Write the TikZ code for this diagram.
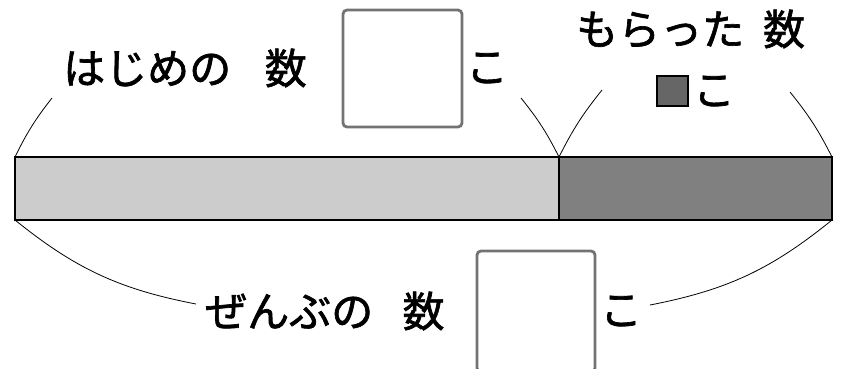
\documentclass[tikz,border=0pt]{standalone}
\usepackage{fontspec}
\setmainfont{Noto Sans CJK JP}
\newfontfamily\jpfont{Noto Sans CJK JP}[FakeBold=1.6]
\usepackage{tikz}

\begin{document}
\begin{tikzpicture}[x=1pt,y=-1pt,
  lbl/.style = {font=\fontsize{42}{46}\jpfont, inner sep=0pt},
  ansbox/.style = {draw=black!55, line width=2.8pt, rounded corners=4pt, fill=white},
  brace/.style = {draw, line width=0.8pt}]
\useasboundingbox (0,0) rectangle (851,369);
% bar
\filldraw[fill=black!20, line width=2pt] (15,157) rectangle (559,220);
\filldraw[fill=black!50, line width=2pt] (559,157) rectangle (832,220);
\coordinate (tl) at (15,157);
\coordinate (tm) at (559,157);
\coordinate (tr) at (832,157);
\coordinate (bl) at (15,220);
\coordinate (br) at (832,220);
% labels
\node[lbl, anchor=west] (start) at (63,68) {はじめの\hspace{0.8em}数};
\draw[ansbox] (343,10) rectangle (462,127);
\node[lbl] (ko1) at (487,68) {こ};
\node[lbl, anchor=west] (got) at (576,29) {もらった\hspace{0.45em}数};
\filldraw[fill=black!60, line width=1.5pt] (657,76) rectangle (688,106);
\node[lbl] (ko2) at (714,91) {こ};
\node[lbl, anchor=west] (all) at (205,311) {ぜんぶの\hspace{0.7em}数};
\draw[ansbox] (477,251) rectangle (595,372);
\node[lbl] (ko3) at (621,311) {こ};
% braces
\coordinate (a1) at (52,98);
\coordinate (a2) at (521,98);
\coordinate (b1) at (602,90);
\coordinate (b2) at (790,92);
\coordinate (c1) at (196,304);
\coordinate (c2) at (650,305);
\draw[brace] (tl) to[bend left=6] (a1);
\draw[brace] (tm) to[bend right=6] (a2);
\draw[brace] (tm) to[bend left=6] (b1);
\draw[brace] (tr) to[bend right=6] (b2);
\draw[brace] (bl) to[bend right=14] (c1);
\draw[brace] (br) to[bend left=14] (c2);
\end{tikzpicture}
\end{document}
